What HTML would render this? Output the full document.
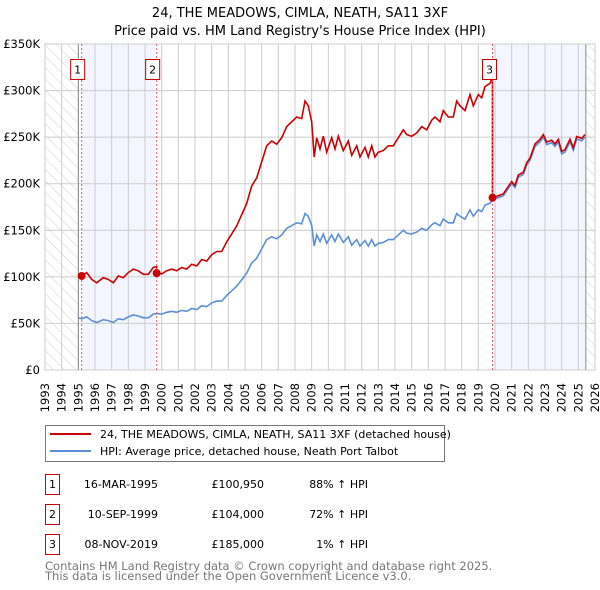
<!DOCTYPE html>
<html><head><meta charset="utf-8"><style>
body{margin:0;background:#fff;font-family:"DejaVu Sans","Liberation Sans",sans-serif;}
#wrap{position:relative;width:600px;height:590px;overflow:hidden;}
</style></head><body>
<div id="wrap">
<svg id="chart" width="600" height="590" xmlns="http://www.w3.org/2000/svg" font-family="DejaVu Sans, Liberation Sans, sans-serif">
<defs>
<pattern id="hatch" width="8" height="8" patternUnits="userSpaceOnUse" patternTransform="rotate(-45)">
<line x1="0" y1="0" x2="0" y2="8" stroke="#cfcfcf" stroke-width="1"/>
</pattern>
</defs>
<text x="300" y="17" text-anchor="middle" font-size="13" fill="#000">24, THE MEADOWS, CIMLA, NEATH, SA11 3XF</text>
<text x="300" y="35" text-anchor="middle" font-size="13" fill="#000">Price paid vs. HM Land Registry's House Price Index (HPI)</text>
<g id="bg"></g><g id="grid"></g><g id="axes"></g><g id="series"></g><g id="marks"></g>
<g>
<rect x="45.5" y="425.5" width="399" height="36" fill="#fff" stroke="#777"/>
<line x1="50" y1="434" x2="91" y2="434" stroke="#cc0000" stroke-width="2"/>
<text x="100" y="438" font-size="11">24, THE MEADOWS, CIMLA, NEATH, SA11 3XF (detached house)</text>
<line x1="50" y1="451" x2="91" y2="451" stroke="#5b8fd6" stroke-width="2"/>
<text x="100" y="455" font-size="11">HPI: Average price, detached house, Neath Port Talbot</text>
</g>
<g id="table" font-size="11"></g>
<text x="45" y="570" font-size="11.5" fill="#777">Contains HM Land Registry data © Crown copyright and database right 2025.</text>
<text x="45" y="580" font-size="11.5" fill="#777">This data is licensed under the Open Government Licence v3.0.</text>
</svg>
</div>
<script>
const years=[1995,1995.2,1995.5,1995.8,1996.1,1996.5,1996.8,1997.1,1997.4,1997.7,1998.0,1998.3,1998.6,1998.9,1999.2,1999.5,1999.7,2000.0,2000.3,2000.6,2000.9,2001.2,2001.5,2001.8,2002.1,2002.4,2002.7,2003.0,2003.3,2003.6,2003.9,2004.2,2004.5,2004.8,2005.1,2005.4,2005.7,2006.0,2006.3,2006.6,2006.9,2007.2,2007.5,2007.8,2008.1,2008.4,2008.6,2008.8,2009.0,2009.15,2009.3,2009.5,2009.7,2009.9,2010.2,2010.4,2010.6,2010.9,2011.2,2011.4,2011.7,2011.9,2012.2,2012.4,2012.6,2012.8,2013.0,2013.3,2013.6,2013.9,2014.2,2014.5,2014.7,2015.0,2015.3,2015.6,2015.9,2016.2,2016.4,2016.7,2016.9,2017.2,2017.5,2017.7,2017.9,2018.2,2018.5,2018.7,2019.0,2019.2,2019.4,2019.7,2019.85,2020.2,2020.5,2020.8,2021.0,2021.2,2021.4,2021.7,2021.9,2022.1,2022.4,2022.7,2022.9,2023.1,2023.4,2023.6,2023.8,2024.0,2024.2,2024.5,2024.7,2024.9,2025.2,2025.4];
const hpi=[56,55,57,53,51,54,53,51,55,54,57,59,58,56,56,60,60.5,60,62,63,62,64,63,66,65,69,68,72,74,74,80,85,90,97,104,115,120,130,140,143,141,145,152,155,158,157,168,165,155,133,145,138,146,136,145,138,146,137,143,134,140,133,139,133,140,133,136,137,140,140,145,150,147,146,148,152,150,156,158,155,162,158,158,168,165,162,172,165,172,170,177,179,183,185,187,195,200,196,207,210,220,225,240,245,250,242,244,240,245,232,234,245,236,248,246,250];
const saleYears=[1995.2,1999.7,2019.85];
const salePrices=[100950,104000,185000];
const saleDates=["16-MAR-1995","10-SEP-1999","08-NOV-2019"];
const salePriceLabels=["£100,950","£104,000","£185,000"];
const saleDiffs=["88% ↑ HPI","72% ↑ HPI","1% ↑ HPI"];
const yTicks=[0,50,100,150,200,250,300,350];
const yTickLabels=["£0","£50K","£100K","£150K","£200K","£250K","£300K","£350K"];
const xStart=1993,xEnd=2026,dataEnd=2025.45;

const NS="http://www.w3.org/2000/svg";
const L=45,R=595,T=44,B=370;
const xs=y=>L+(y-xStart)/(xEnd-xStart)*(R-L);
const ys=v=>B-v/350*(B-T);
function mk(tag,attrs,parent){const e=document.createElementNS(NS,tag);for(const k in attrs)e.setAttribute(k,attrs[k]);parent.appendChild(e);return e;}
const bg=document.getElementById('bg'),grid=document.getElementById('grid'),axes=document.getElementById('axes'),series=document.getElementById('series'),marks=document.getElementById('marks'),table=document.getElementById('table');

let e;
e=mk('rect',{x:L,y:T,width:xs(years[0])-L,height:B-T,fill:'url(#hatch)'},bg);


e=mk('rect',{x:xs(dataEnd),y:T,width:R-xs(dataEnd),height:B-T,fill:'url(#hatch)'},bg);


e=mk('rect',{x:xs(saleYears[0]),y:T,width:xs(saleYears[1])-xs(saleYears[0]),height:B-T,fill:'#f3f6fe'},bg);


e=mk('rect',{x:xs(saleYears[2]),y:T,width:xs(dataEnd)-xs(saleYears[2]),height:B-T,fill:'#f3f6fe'},bg);



for(let y=xStart;y<=xEnd;y++){
  const x=xs(y);
  e=mk('line',{x1:x,y1:T,x2:x,y2:B,stroke:'#cccccc','stroke-width':1},grid);
  
  
  e=mk('text',{x:0,y:0,transform:`translate(${x+4},${383}) rotate(-90)`,'text-anchor':'end','font-size':11.5},axes);
  e.textContent=String(y);
  
  
}
yTicks.forEach((v,i)=>{
  const y=ys(v);
  e=mk('line',{x1:L,y1:y,x2:R,y2:y,stroke:'#cccccc','stroke-width':1},grid);
  
  
  e=mk('text',{x:40,y:y+4,'text-anchor':'end','font-size':11.5},axes);
  e.textContent=yTickLabels[i];
  
  
});
[years[0],dataEnd].forEach(y=>{
  e=mk('line',{x1:xs(y),y1:T,x2:xs(y),y2:B,stroke:'#888','stroke-width':1},grid);
  
  
});

let d=years.map((y,i)=>(i?'L':'M')+xs(y).toFixed(1)+','+ys(hpi[i]).toFixed(1)).join('');
e=mk('path',{d:d,fill:'none',stroke:'#5b8fd6','stroke-width':1.6},series);



function hpiAt(t){for(let i=1;i<years.length;i++){if(years[i]>=t){const f=(t-years[i-1])/(years[i]-years[i-1]);return hpi[i-1]+f*(hpi[i]-hpi[i-1]);}}return hpi[hpi.length-1];}
let pts=[];
for(let s=0;s<saleYears.length;s++){
  const base=hpiAt(saleYears[s]);const end=s+1<saleYears.length?saleYears[s+1]:dataEnd;
  pts.push([saleYears[s],salePrices[s]/1000]);
  years.forEach((y,i)=>{if(y>saleYears[s]&&y<end)pts.push([y,hpi[i]*salePrices[s]/1000/base]);});
  if(s+1<saleYears.length)pts.push([end,hpiAt(end)*salePrices[s]/1000/base]);
}
d=pts.map((p,i)=>(i?'L':'M')+xs(p[0]).toFixed(1)+','+ys(p[1]).toFixed(1)).join('');
e=mk('path',{d:d,fill:'none',stroke:'#cc0000','stroke-width':1.6},series);



saleYears.forEach((sy,i)=>{
  const x=xs(sy);
  e=mk('line',{x1:x,y1:T,x2:x,y2:B,stroke:'#e06060','stroke-width':1,'stroke-dasharray':'2,2'},marks);
  
  
  e=mk('circle',{cx:x,cy:ys(salePrices[i]/1000),r:4,fill:'#cc0000'},marks);
  
  
  const bx=x-(i==2?3:4);
  e=mk('rect',{x:bx-7,y:59.5,width:14,height:20,fill:'#fff',stroke:'#cc0000'},marks);
  
  
  e=mk('text',{x:bx,y:73.5,'text-anchor':'middle','font-size':11},marks);
  e.textContent=String(i+1);
  
  
  const ry=485+i*30;
  e=mk('rect',{x:45.5,y:ry-10.5,width:14,height:20,fill:'#fff',stroke:'#cc0000'},table);
  
  
  e=mk('text',{x:52.5,y:ry+3,'text-anchor':'middle'},table);e.textContent=String(i+1);
  
  
  e=mk('text',{x:158,y:ry+3,'text-anchor':'end'},table);e.textContent=saleDates[i];
  
  
  e=mk('text',{x:264,y:ry+3,'text-anchor':'end'},table);e.textContent=salePriceLabels[i];
  
  
  e=mk('text',{x:368,y:ry+3,'text-anchor':'end'},table);e.textContent=saleDiffs[i];
  
  
});
e=mk('rect',{x:L,y:T,width:R-L,height:B-T,fill:'none',stroke:'#ccc'},axes);


</script>
</body></html>
